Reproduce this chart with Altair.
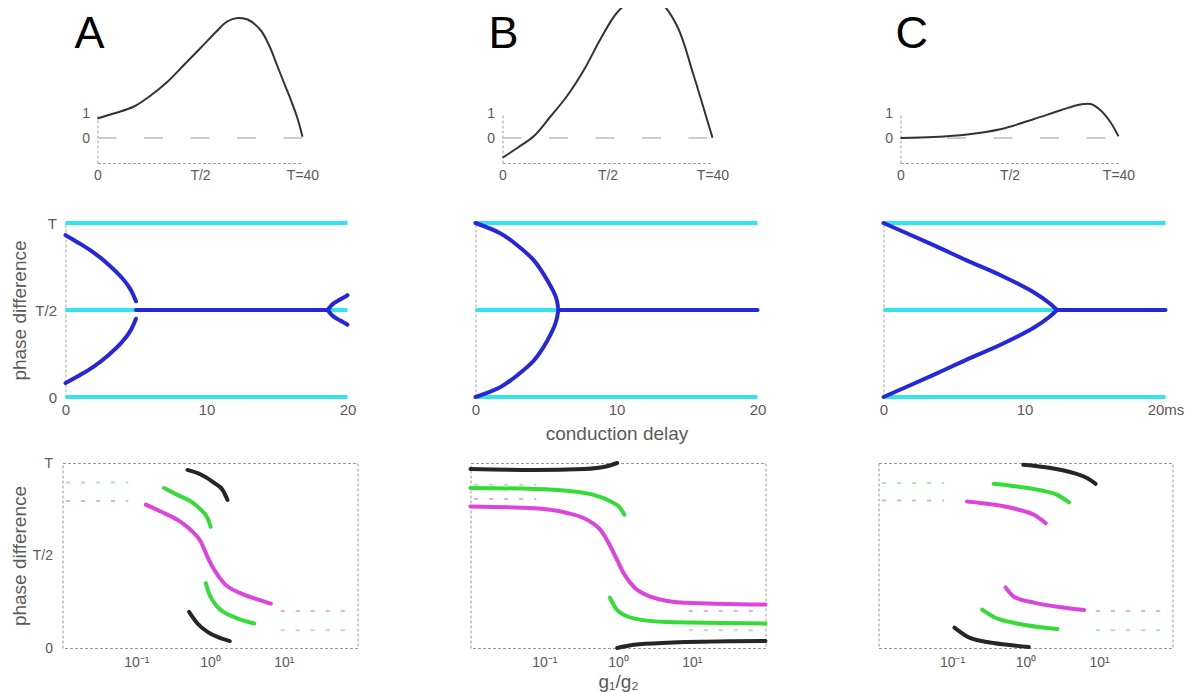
import altair as alt
import pandas as pd

# ---------------- colours / fonts ----------------
FONT = "Liberation Sans"
LABEL_C = "#5a5a5a"
AXIS_C = "#a0a0a0"
CURVE_C = "#333333"
DASH_C = "#bdbdbd"
CYAN = "#33e3f0"
BLUE = "#2626dc"
BLACK = "#262626"
GREEN = "#36dc36"
MAGENTA = "#dc44dc"
GREEN_L = "#a6eea6"
MAGENTA_L = "#eea6ee"

# ---------------- top row: response curves (period T = 40) ----------------
A1_x = [0, 3.5, 7.1, 10.5, 13.6, 17.0, 20.1, 23.4, 25.3, 27.3, 29.3, 31.8, 33.5, 35.0, 36.4, 37.7, 39.0, 40]
A1_y = [0.78, 1.0, 1.26, 1.72, 2.24, 2.95, 3.6, 4.3, 4.66, 4.8, 4.74, 4.32, 3.7, 2.93, 2.2, 1.54, 0.8, 0.05]
B1_x = [0, 2.8, 6.0, 9.1, 12.3, 15.5, 18.7, 21.8, 25.0, 27.2, 30.1, 33.3, 36.4, 38.4, 40]
B1_y = [-0.79, -0.4, 0.08, 0.85, 1.68, 2.72, 3.97, 5.01, 5.57, 5.7, 5.43, 4.46, 2.51, 1.13, 0.01]
C1_x = [0, 6.1, 12.2, 18.3, 24.5, 29.4, 33.0, 34.9, 36.7, 38.5, 40]
C1_y = [0.0, 0.04, 0.14, 0.35, 0.76, 1.11, 1.34, 1.36, 1.11, 0.64, 0.07]
TOP_TICKS = [0, 20, 40]
TOP_YTICKS = [0, 1]
ZERO_X = [0, 40]
LETTERS = ["A", "B", "C"]

# ---------------- middle row: phase difference vs conduction delay ----------------
CYAN_LEVELS = [0, 20, 40]
MID_TICKS = [0, 10, 20]
A2_up_x = [0, 1.0, 2.0, 3.0, 4.0, 4.6, 5.0]
A2_up_y = [37.2, 35.3, 33.2, 30.6, 27.4, 24.8, 22.0]
A2_lo_x = [0, 1.0, 2.0, 3.0, 4.0, 4.6, 5.0]
A2_lo_y = [3.2, 5.0, 7.0, 9.5, 12.6, 15.2, 18.0]
A2_mid_x = [5.0, 18.6]
A2_mid_y = [20, 20]
A2_fu_x = [18.6, 18.9, 19.3, 19.7, 20]
A2_fu_y = [20, 21.2, 22.1, 22.8, 23.4]
A2_fl_x = [18.6, 18.9, 19.3, 19.7, 20]
A2_fl_y = [20, 18.8, 17.9, 17.2, 16.6]

B2_up_x = [0, 1.78, 2.96, 4.14, 5.1, 5.7, 5.85]
B2_up_y = [40, 37.6, 34.9, 31.4, 26.8, 23.0, 20.7]
B2_lo_x = [0, 1.78, 2.96, 4.14, 5.1, 5.7, 5.85]
B2_lo_y = [0, 2.3, 5.0, 8.4, 13.0, 17.2, 19.5]
B2_mid_x = [5.85, 20]
B2_mid_y = [20, 20]

C2_up_x = [0, 3.55, 5.9, 8.3, 10.65, 11.8, 12.3]
C2_up_y = [40, 34.9, 31.4, 28.0, 24.1, 21.5, 20]
C2_lo_x = [0, 3.55, 5.9, 8.3, 10.65, 11.8, 12.3]
C2_lo_y = [0, 5.1, 8.6, 12.0, 15.9, 18.5, 20]
C2_mid_x = [12.3, 20]
C2_mid_y = [20, 20]

# ---------------- bottom row: phase difference vs g1/g2 (log) ----------------
LOG_TICKS = [0.1, 1, 10]
A3_ku_x = [0.495, 0.75, 1.14, 1.48, 1.73]
A3_ku_y = [38.5, 37.5, 35.7, 34.2, 32.0]
A3_kl_x = [0.52, 0.676, 0.925, 1.26, 1.86]
A3_kl_y = [7.8, 5.3, 3.5, 2.4, 1.5]
A3_gu_x = [0.239, 0.363, 0.55, 0.75, 0.925, 1.02]
A3_gu_y = [34.6, 33.1, 31.7, 29.9, 28.1, 26.2]
A3_gl_x = [0.877, 0.97, 1.26, 2.12, 3.98]
A3_gl_y = [14.0, 11.8, 8.9, 6.7, 5.3]
A3_m_x = [0.135, 0.215, 0.363, 0.55, 0.75, 0.925, 1.14, 1.55, 2.62, 4.4, 6.67]
A3_m_y = [31.0, 29.5, 27.7, 25.5, 23.0, 19.7, 16.9, 14.0, 11.8, 10.5, 9.6]

B3_ku_x = [0.01, 0.073, 0.35, 0.71, 0.975]
B3_ku_y = [38.7, 38.5, 38.7, 39.3, 40]
B3_kl_x = [0.975, 1.64, 4.64, 37, 100]
B3_kl_y = [0, 0.7, 1.15, 1.45, 1.5]
B3_gu_x = [0.01, 0.073, 0.204, 0.468, 0.794, 1.08, 1.22]
B3_gu_y = [34.6, 34.4, 34.0, 33.1, 31.7, 30.2, 28.8]
B3_gl_x = [0.776, 0.975, 1.64, 4.64, 100]
B3_gl_y = [10.9, 8.2, 6.4, 5.6, 5.3]
B3_m_x = [0.01, 0.073, 0.204, 0.382, 0.58, 0.794, 0.975, 1.2, 1.64, 2.75, 7.8, 100]
B3_m_y = [30.6, 30.2, 29.2, 27.7, 25.5, 21.9, 19.0, 16.1, 13.2, 11.1, 9.8, 9.4]

C3_ku_x = [0.933, 2.2, 4.57, 6.97, 9.0]
C3_ku_y = [39.6, 38.9, 37.8, 36.7, 35.5]
C3_kl_x = [0.108, 0.16, 0.30, 0.565, 1.11]
C3_kl_y = [4.4, 2.5, 1.3, 0.7, 0.2]
C3_gu_x = [0.37, 0.77, 1.6, 2.71, 3.9]
C3_gu_y = [35.5, 34.9, 34.1, 33.1, 31.5]
C3_gl_x = [0.257, 0.37, 0.77, 2.71]
C3_gl_y = [8.3, 6.7, 5.3, 4.1]
C3_mu_x = [0.16, 0.37, 0.77, 1.3, 1.88]
C3_mu_y = [31.7, 31.0, 30.0, 28.8, 27.0]
C3_ml_x = [0.535, 0.695, 1.3, 3.01, 6.27]
C3_ml_y = [13.1, 11.1, 9.8, 8.8, 8.2]

# dashed reference levels (left: small g1/g2, right: large g1/g2)
REF_LEFT_X = [0.0112, 0.078]
REF_RIGHT_X = [9.1, 76]
A3_ref = {"gL": 35.8, "mL": 31.8, "mR": 8.0, "gR": 3.85}
B3_ref = {"gL": 35.3, "mL": 32.2, "mR": 8.0, "gR": 3.85}
C3_ref = {"gL": 35.7, "mL": 31.9, "mR": 8.0, "gR": 3.85}


# ---------------- helpers ----------------
def seg_df(segs, colors=None):
    rows = []
    for i, (xs, ys) in enumerate(segs):
        for x, y in zip(xs, ys):
            r = {"seg": i, "x": x, "y": y}
            if colors is not None:
                r["c"] = colors[i]
            rows.append(r)
    return pd.DataFrame(rows)


def spacer(w, h=1, letter=None, dx=0):
    ch = (alt.Chart(pd.DataFrame({"v": [0]}))
          .mark_rect(opacity=0)
          .encode(x=alt.value(0), x2=alt.value(w), y=alt.value(0), y2=alt.value(h)))
    if letter is None:
        return ch.properties(width=w, height=h)
    return ch.properties(
        width=w, height=h,
        title=alt.TitleParams(letter, anchor="start", frame="group", fontSize=45, font=FONT,
                              fontWeight="normal", color="black", baseline="alphabetic",
                              offset=0, dx=dx, dy=-20))


def top_panel(xs, ys, width):
    xsc = alt.Scale(domain=[0, 40], nice=False, zero=False)
    ysc = alt.Scale(domain=[-1, 1], nice=False, zero=False)
    xa = alt.Axis(values=TOP_TICKS, title=None, labelFontSize=14, labelPadding=5,
                  labelFlush=False, labelOverlap=False,
                  labelExpr="datum.value == 0 ? '0' : (datum.value == 20 ? 'T/2' : 'T=40')")
    ya = alt.Axis(values=TOP_YTICKS, title=None, labelFontSize=14, labelPadding=8,
                  labelOverlap=False)
    zero = (alt.Chart(pd.DataFrame({"x": ZERO_X, "y": [0, 0]}))
            .mark_line(color=DASH_C, strokeWidth=1.5, strokeDash=[19, 27.5])
            .encode(x=alt.X("x:Q", scale=xsc, axis=xa), y=alt.Y("y:Q", scale=ysc, axis=ya)))
    curve = (alt.Chart(pd.DataFrame({"x": xs, "y": ys}))
             .mark_line(color=CURVE_C, strokeWidth=2, interpolate="catmull-rom", clip=False)
             .encode(x=alt.X("x:Q", scale=xsc, axis=xa), y=alt.Y("y:Q", scale=ysc, axis=ya)))
    return alt.layer(zero, curve).properties(width=width, height=50)


def mid_panel(segs, width, show_y, last_label, xtitle=None, title_x=-46):
    xsc = alt.Scale(domain=[0, 20], nice=False, zero=False)
    ysc = alt.Scale(domain=[0, 40], nice=False, zero=False)
    xkw = dict(values=MID_TICKS, domain=False, labelFontSize=15, labelPadding=5,
               labelFlush=False, labelOverlap=False,
               labelExpr="datum.value == 20 ? '%s' : datum.label" % last_label)
    if xtitle:
        xkw.update(title=xtitle, titleY=36, titleBaseline="middle")
    else:
        xkw.update(title=None)
    ykw = dict(values=CYAN_LEVELS, labels=show_y, labelFontSize=15, labelPadding=9,
               labelOverlap=False,
               labelExpr="datum.value == 0 ? '0' : (datum.value == 20 ? 'T/2' : 'T')")
    if show_y:
        ykw.update(title="phase difference", titleX=title_x, titleBaseline="middle")
    else:
        ykw.update(title=None)
    xe = alt.X("x:Q", scale=xsc, axis=alt.Axis(**xkw))
    ye = alt.Y("y:Q", scale=ysc, axis=alt.Axis(**ykw))
    cyan = (alt.Chart(pd.DataFrame({"y": CYAN_LEVELS}))
            .mark_rule(color=CYAN, strokeWidth=4)
            .encode(y=ye))
    blue = (alt.Chart(seg_df(segs))
            .mark_line(color=BLUE, strokeWidth=4, interpolate="catmull-rom", strokeCap="round")
            .encode(x=xe, y=ye, detail="seg:N"))
    return alt.layer(cyan, blue).properties(width=width, height=174)


def bot_panel(segs, colors, ref, width, show_y, xtitle=None, title_x=-43):
    xsc = alt.Scale(type="log", domain=[0.01, 100], nice=False)
    ysc = alt.Scale(domain=[0, 40], nice=False, zero=False)
    xkw = dict(values=LOG_TICKS, domain=False, labelFontSize=14, labelPadding=7,
               labelFlush=False, labelOverlap=False,
               labelExpr="datum.value < 0.5 ? '10\u207b\u00b9' : (datum.value < 5 ? '10\u2070' : '10\u00b9')")
    if xtitle:
        xkw.update(title=xtitle, titleY=33, titleBaseline="middle")
    else:
        xkw.update(title=None)
    ykw = dict(values=CYAN_LEVELS, labels=show_y, domain=False, labelFontSize=14,
               labelPadding=10, labelOverlap=False,
               labelExpr="datum.value == 0 ? '0' : (datum.value == 20 ? 'T/2' : 'T')")
    if show_y:
        ykw.update(title="phase difference", titleX=title_x, titleBaseline="middle")
    else:
        ykw.update(title=None)
    xe = alt.X("x:Q", scale=xsc, axis=alt.Axis(**xkw))
    ye = alt.Y("y:Q", scale=ysc, axis=alt.Axis(**ykw))
    dsegs = [(REF_LEFT_X, [ref["gL"]] * 2), (REF_LEFT_X, [ref["mL"]] * 2),
             (REF_RIGHT_X, [ref["mR"]] * 2), (REF_RIGHT_X, [ref["gR"]] * 2)]
    dashed = (alt.Chart(seg_df(dsegs, [GREEN_L, MAGENTA_L, MAGENTA_L, GREEN_L]))
              .mark_line(strokeWidth=2, strokeDash=[4, 11])
              .encode(x=xe, y=ye, detail="seg:N", color=alt.Color("c:N", scale=None)))
    lines = (alt.Chart(seg_df(segs, colors))
             .mark_line(strokeWidth=4, interpolate="monotone", strokeCap="round")
             .encode(x=xe, y=ye, detail="seg:N", color=alt.Color("c:N", scale=None)))
    return alt.layer(dashed, lines).properties(
        width=width, height=185,
        view=alt.ViewBackground(stroke="#9a9a9a", strokeWidth=1, strokeDash=[3, 2]))


# ---------------- panels ----------------
A1 = top_panel(A1_x, A1_y, 205)
B1 = top_panel(B1_x, B1_y, 210)
C1 = top_panel(C1_x, C1_y, 218)

A2 = mid_panel([(A2_up_x, A2_up_y), (A2_lo_x, A2_lo_y), (A2_mid_x, A2_mid_y),
                (A2_fu_x, A2_fu_y), (A2_fl_x, A2_fl_y)], 282, True, "20", title_x=-46)
B2 = mid_panel([(B2_up_x, B2_up_y), (B2_lo_x, B2_lo_y), (B2_mid_x, B2_mid_y)],
               282, False, "20", xtitle="conduction delay")
C2 = mid_panel([(C2_up_x, C2_up_y), (C2_lo_x, C2_lo_y), (C2_mid_x, C2_mid_y)],
               282, False, "20ms")

A3 = bot_panel([(A3_ku_x, A3_ku_y), (A3_kl_x, A3_kl_y), (A3_gu_x, A3_gu_y),
                (A3_gl_x, A3_gl_y), (A3_m_x, A3_m_y)],
               [BLACK, BLACK, GREEN, GREEN, MAGENTA], A3_ref, 295, True, title_x=-43)
B3 = bot_panel([(B3_ku_x, B3_ku_y), (B3_kl_x, B3_kl_y), (B3_gu_x, B3_gu_y),
                (B3_gl_x, B3_gl_y), (B3_m_x, B3_m_y)],
               [BLACK, BLACK, GREEN, GREEN, MAGENTA], B3_ref, 295, False,
               xtitle="g\u2081/g\u2082")
C3 = bot_panel([(C3_ku_x, C3_ku_y), (C3_kl_x, C3_kl_y), (C3_gu_x, C3_gu_y),
                (C3_gl_x, C3_gl_y), (C3_mu_x, C3_mu_y), (C3_ml_x, C3_ml_y)],
               [BLACK, BLACK, GREEN, GREEN, MAGENTA, MAGENTA], C3_ref, 294, False)

row1 = alt.hconcat(spacer(34, letter=LETTERS[0], dx=12), A1,
                   spacer(198, letter=LETTERS[1], dx=185), B1,
                   spacer(186, letter=LETTERS[2], dx=182), C1,
                   spacing=1, bounds="flush")
row2 = alt.hconcat(spacer(2), A2, spacer(126), B2, spacer(124), C2, spacing=1, bounds="flush")
row3 = alt.hconcat(A3, B3, C3, spacing=113, bounds="flush")

chart = (alt.vconcat(row1, spacer(1, 33), row2, spacer(1, 11), row3, spacing=0)
         .properties(padding={"left": 1.5, "top": -17, "right": 5, "bottom": 0})
         .configure_view(stroke=None)
         .configure_axis(labelFont=FONT, titleFont=FONT, labelColor=LABEL_C, titleColor=LABEL_C,
                         domainColor=AXIS_C, domainWidth=1, domainDash=[3, 2],
                         ticks=False, grid=False,
                         titleFontWeight="normal", titleFontSize=19)
         .configure_title(font=FONT))

chart.save("out.html", embed_options={"renderer": "svg", "actions": False})
